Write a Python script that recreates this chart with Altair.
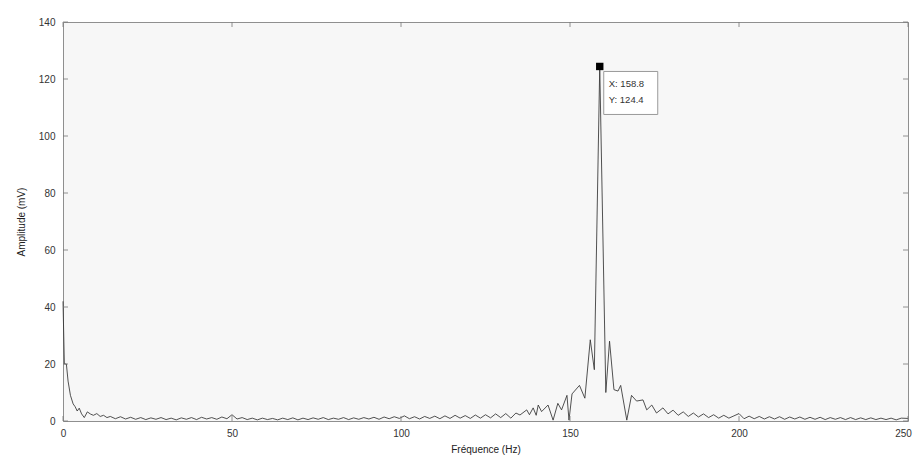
import altair as alt
import pandas as pd

# Spectrum (frequency in Hz, amplitude in mV)
freq = [0.0, 0.4, 1.0, 1.5, 2.2, 3.0, 3.6, 4.2, 4.8, 5.5, 6.3, 7.2, 8.2, 9.0, 10.0, 11.0, 12.0, 13.0,
        14.0, 15.5, 17.0, 18.5, 20.0, 21.5, 23.0, 24.5, 26.0, 27.5, 29.0, 30.5, 32.0, 33.5, 35.0, 36.5,
        38.0, 39.5, 41.0, 42.5, 44.0, 45.5, 47.0, 48.5, 50.0, 51.5, 53.0, 54.5, 56.0, 57.5, 59.0, 60.5,
        62.0, 63.5, 65.0, 66.5, 68.0, 69.5, 71.0, 72.5, 74.0, 75.5, 77.0, 78.5, 80.0, 81.5, 83.0, 84.5,
        86.0, 87.5, 89.0, 90.5, 92.0, 93.5, 95.0, 96.5, 98.0, 99.5, 101.0, 102.5, 104.0, 105.5, 107.0,
        108.5, 110.0, 111.5, 113.0, 114.5, 116.0, 117.5, 119.0, 120.5, 122.0, 123.5, 125.0, 126.5, 128.0,
        129.5, 131.0, 132.5, 134.0, 135.2, 137.2, 138.0, 139.1, 140.0, 140.6, 141.6, 143.5, 145.0, 146.4,
        147.5, 149.1, 149.7, 150.6, 152.8, 154.4, 156.0, 157.2, 158.8, 160.6, 161.7, 163.0, 164.2, 165.0,
        166.8, 168.2, 169.7, 171.6, 172.7, 174.2, 175.6, 177.5, 179.0, 180.5, 182.0, 183.5, 185.0, 186.5,
        188.0, 189.5, 191.0, 192.5, 194.0, 195.5, 197.0, 198.5, 200.0, 201.5, 203.0, 204.5, 206.0, 207.5,
        209.0, 210.5, 212.0, 213.5, 215.0, 216.5, 218.0, 219.5, 221.0, 222.5, 224.0, 225.5, 227.0, 228.5,
        230.0, 231.5, 233.0, 234.5, 236.0, 237.5, 239.0, 240.5, 242.0, 243.5, 245.0, 246.5, 248.0, 250.0]
amp = [42.0, 20.0, 20.0, 14.0, 9.0, 6.0, 5.0, 3.5, 4.5, 2.5, 1.2, 3.2, 2.4, 2.0, 2.6, 1.6, 2.0, 1.2,
       1.6, 0.8, 1.5, 0.7, 1.3, 0.6, 1.2, 0.5, 1.1, 0.6, 1.2, 0.5, 1.0, 0.4, 1.1, 0.6,
       1.2, 0.5, 1.3, 0.7, 1.2, 0.6, 1.4, 0.8, 2.2, 0.7, 1.2, 0.5, 1.0, 0.4, 1.0, 0.5,
       0.9, 0.4, 1.0, 0.5, 1.1, 0.4, 1.0, 0.5, 1.1, 0.6, 1.2, 0.5, 1.0, 0.6, 1.2, 0.5,
       1.1, 0.6, 1.2, 0.7, 1.3, 0.6, 1.4, 0.8, 1.5, 0.9, 1.8, 0.8, 1.5, 0.7, 1.6,
       0.9, 1.7, 0.8, 1.8, 0.9, 2.0, 1.0, 1.9, 0.9, 2.1, 1.0, 2.2, 1.1, 2.5,
       1.2, 2.6, 1.0, 2.8, 2.1, 3.9, 2.2, 4.6, 2.0, 5.6, 3.3, 5.6, 0.3, 6.2,
       3.9, 9.0, 0.3, 9.5, 12.5, 8.0, 28.5, 18.0, 124.4, 10.0, 28.0, 11.0, 10.5, 12.5,
       0.3, 9.0, 7.0, 7.4, 3.9, 5.6, 2.8, 4.6, 2.5, 3.8, 2.0, 3.2, 1.6, 2.8,
       1.4, 2.5, 1.2, 2.2, 1.0, 2.0, 1.0, 1.8, 2.6, 0.8, 1.7, 0.8, 1.6, 0.7,
       1.5, 0.7, 1.5, 0.6, 1.4, 0.7, 1.4, 0.6, 1.3, 0.6, 1.3, 0.5, 1.2, 0.6,
       1.2, 0.5, 1.2, 0.5, 1.1, 0.5, 1.1, 0.5, 1.0, 0.5, 1.0, 0.4, 1.0, 0.9]

x_ticks = [0, 50, 100, 150, 200, 250]
y_ticks = [0, 20, 40, 60, 80, 100, 120, 140]
peak_x = [158.8]
peak_y = [124.4]
tip_x_label = ["X: 158.8"]
tip_y_label = ["Y: 124.4"]
x_title = "Fréquence (Hz)"
y_title = "Amplitude (mV)"

W, H = 845, 399
FONT = "Liberation Sans"

df = pd.DataFrame({"f": freq, "a": amp})
xt = pd.DataFrame({"t": x_ticks})
yt = pd.DataFrame({"t": y_ticks})
pk = pd.DataFrame({"x": peak_x, "y": peak_y, "lx": tip_x_label, "ly": tip_y_label})

xs = alt.Scale(domain=[0, 250], nice=False, zero=False)
ys = alt.Scale(domain=[0, 140], nice=False, zero=False)

xax = alt.Axis(values=x_ticks, ticks=False, domain=False, grid=False, labelFlush=False,
               labelOffset={"condition": {"test": "datum.value == 250", "value": -5}, "value": 0},
               labelPadding=7, titlePadding=6, labelFontSize=10,
               titleFontSize=10, labelFont=FONT, titleFont=FONT,
               labelColor="#333", titleColor="#222", titleFontWeight="normal")
yax = alt.Axis(values=y_ticks, ticks=False, domain=False, grid=False, labelFlush=False,
               labelPadding=8, titlePadding=12, labelFontSize=10,
               titleFontSize=10, labelFont=FONT, titleFont=FONT,
               labelColor="#333", titleColor="#222", titleFontWeight="normal")


def X(field):
    return alt.X(field, scale=xs, title=x_title, axis=xax)


def Y(field):
    return alt.Y(field, scale=ys, title=y_title, axis=yax)


line = alt.Chart(df).mark_line(color="#333333", strokeWidth=0.85).encode(
    x=X("f:Q"), y=Y("a:Q"))

tick_color = "#777"
xt_bot = alt.Chart(xt).mark_rule(color=tick_color, strokeWidth=0.8).encode(
    x=X("t:Q"), y=alt.value(H), y2=alt.value(H - 5))
xt_top = alt.Chart(xt).mark_rule(color=tick_color, strokeWidth=0.8).encode(
    x=X("t:Q"), y=alt.value(0), y2=alt.value(5))
yt_left = alt.Chart(yt).mark_rule(color=tick_color, strokeWidth=0.8).encode(
    y=Y("t:Q"), x=alt.value(0), x2=alt.value(5))
yt_right = alt.Chart(yt).mark_rule(color=tick_color, strokeWidth=0.8).encode(
    y=Y("t:Q"), x=alt.value(W), x2=alt.value(W - 5))

marker = alt.Chart(pk).mark_point(shape="square", filled=True, color="black", size=55, opacity=1).encode(
    x=X("x:Q"), y=Y("y:Q"))

box = alt.Chart(pk).mark_rect(fill="white", stroke="#999", strokeWidth=1,
                              xOffset=4, x2Offset=58, yOffset=5, y2Offset=48).encode(
    x=X("x:Q"), x2="x:Q", y=Y("y:Q"), y2="y:Q")

txt_x = alt.Chart(pk).mark_text(align="left", baseline="middle", dx=9, dy=18,
                                fontSize=9.5, font=FONT, color="#333").encode(
    x=X("x:Q"), y=Y("y:Q"), text="lx:N")
txt_y = alt.Chart(pk).mark_text(align="left", baseline="middle", dx=9, dy=34,
                                fontSize=9.5, font=FONT, color="#333").encode(
    x=X("x:Q"), y=Y("y:Q"), text="ly:N")

chart = alt.layer(line, xt_bot, xt_top, yt_left, yt_right, box, marker, txt_x, txt_y).properties(
    width=W, height=H,
    autosize=alt.AutoSizeParams(type="none"),
    padding={"left": 55, "top": 14, "right": 5, "bottom": 38},
    background="white",
).configure_view(stroke="#8f8f8f", strokeWidth=1, fill="#f7f7f7")

chart.save("out.html", embed_options={"renderer": "svg", "actions": False})
